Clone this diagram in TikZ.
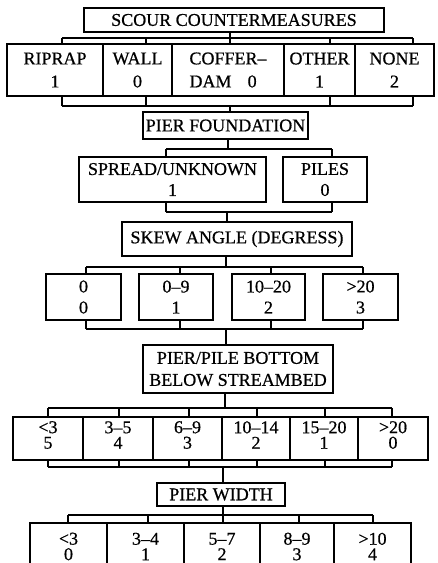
\documentclass[tikz,border=0pt]{standalone}
\usepackage{fontspec}
\setmainfont{Liberation Serif}
\newfontfamily\heavy{Liberation Serif}[FakeBold=0.6,Ligatures=TeX]
\newcommand\bx[7][]{\node[box,#1,minimum width={#5pt-#3pt},minimum height={#6pt-#4pt}] (#2) at ({(#3+#5)/2},{(#4+#6)/2}) {#7};}
% \brkdown{parent above}{child row below}{bracket y}{x left}{x right}{x of stem}{ticks}
\newcommand\brkdown[7]{%
  \coordinate (stem) at (#6,#3);
  \draw[ln] (stem |- #1.south) -- (stem);
  \draw[ln] (#4,#3) -- (#5,#3);
  \foreach \tx in {#7} {\path (\tx,#3) coordinate (tk); \draw[ln] (tk) -- (tk |- #2.north);}
}
% \brkup{row above}{node below}{bracket y}{x left}{x right}{x of stem}{ticks}
\newcommand\brkup[7]{%
  \coordinate (stem) at (#6,#3);
  \draw[ln] (stem) -- (stem |- #2.north);
  \draw[ln] (#4,#3) -- (#5,#3);
  \foreach \tx in {#7} {\path (\tx,#3) coordinate (tk); \draw[ln] (tk) -- (tk |- #1.south);}
}
\begin{document}
\begin{tikzpicture}[x=1pt,y=-1pt,
  box/.style={draw, line width=1.4pt, inner sep=0pt, align=center, font=\heavy\fontsize{18}{22}\selectfont},
  tight/.style={font=\heavy\fontsize{18}{15.5}\selectfont},
  lbl/.style={inner sep=0pt, align=center, font=\heavy\fontsize{18}{15.5}\selectfont},
  ln/.style={line width=1.4pt}]
\clip (0,0) rectangle (437,563);
\fill[white] (0,0) rectangle (437,563);

% level 1
\bx{scour}{84}{8}{384}{32}{SCOUR COUNTERMEASURES}
\bx[font=\heavy\fontsize{18}{23}\selectfont]{riprap}{7}{44}{103}{96}{RIPRAP\\1}
\bx[font=\heavy\fontsize{18}{23}\selectfont]{wall}{103}{44}{172}{96}{WALL\\0}
\bx[font=\heavy\fontsize{18}{23}\selectfont,align=left]{coffer}{172}{44}{284}{96}{COFFER--\\DAM\hspace{0.9em}0}
\bx[font=\heavy\fontsize{18}{23}\selectfont]{other}{284}{44}{355}{96}{OTHER\\1}
\bx[font=\heavy\fontsize{18}{23}\selectfont]{none}{355}{44}{434}{96}{NONE\\2}
\brkdown{scour}{riprap}{38}{62}{413}{230}{62,146,230,330,413}
\bx{pierf}{143}{112}{308}{139}{PIER FOUNDATION}
\brkup{riprap}{pierf}{106}{62}{413}{230}{62,146,330,413}

% level 2
\bx[font=\heavy\fontsize{18}{21}\selectfont]{spread}{79}{157}{266}{202}{SPREAD/UNKNOWN\\1}
\bx[font=\heavy\fontsize{18}{21}\selectfont]{piles}{283}{157}{367}{202}{PILES\\0}
\brkdown{pierf}{spread}{149}{166}{332}{228}{166,332}
\bx{skew}{122}{222}{352}{256}{SKEW ANGLE (DEGRESS)}
\brkup{spread}{skew}{212}{166}{332}{227}{166,332}

% level 3
\bx[font=\heavy\fontsize{18}{21}\selectfont]{sa}{46}{274}{121}{320}{0\\0}
\bx[font=\heavy\fontsize{18}{21}\selectfont]{sb}{139}{274}{213}{320}{0--9\\1}
\bx[font=\heavy\fontsize{18}{21}\selectfont]{sc}{232}{274}{305}{320}{10--20\\2}
\bx[font=\heavy\fontsize{18}{21}\selectfont]{sd}{323}{274}{398}{320}{>20\\3}
\brkdown{skew}{sa}{267}{86}{363}{226}{86,180,271,363}
\bx{ppb}{143}{345}{333}{393}{PIER/PILE BOTTOM\\BELOW STREAMBED}
\brkup{sa}{ppb}{329}{86}{363}{226}{86,180,271,363}

% level 4 (boxes, then their labels set a little high as in the original)
\bx{pa}{13}{417}{83}{460}{}
\bx{pb}{83}{417}{153}{460}{}
\bx{pc}{153}{417}{222}{460}{}
\bx{pd}{222}{417}{290}{460}{}
\bx{pe}{290}{417}{358}{460}{}
\bx{pf}{358}{417}{428}{460}{}
\node[lbl] (pat) at ([yshift=3.5pt]pa.center) {<3\\5};
\node[lbl] (pbt) at ([yshift=3.5pt]pb.center) {3--5\\4};
\node[lbl] (pct) at ([yshift=3.5pt]pc.center) {6--9\\3};
\node[lbl] (pdt) at ([yshift=3.5pt]pd.center) {10--14\\2};
\node[lbl] (pet) at ([yshift=3.5pt]pe.center) {15--20\\1};
\node[lbl] (pft) at ([yshift=3.5pt]pf.center) {>20\\0};
\brkdown{ppb}{pa}{408}{48}{392}{225}{48,119,189,257,325,392}
\bx{pw}{157}{483}{285}{506}{PIER WIDTH}
\brkup{pa}{pw}{467}{48}{392}{223}{48,119,189,257,325,392}

% level 5
\bx[tight]{wa}{30}{523}{107}{570}{<3\\0}
\bx[tight]{wb}{107}{523}{184}{570}{3--4\\1}
\bx[tight]{wc}{184}{523}{260}{570}{5--7\\2}
\bx[tight]{wd}{260}{523}{334}{570}{8--9\\3}
\bx[tight]{we}{334}{523}{411}{570}{>10\\4}
\brkdown{pw}{wa}{515}{68}{373}{223}{68,148,223,299,373}
\end{tikzpicture}
\end{document}
